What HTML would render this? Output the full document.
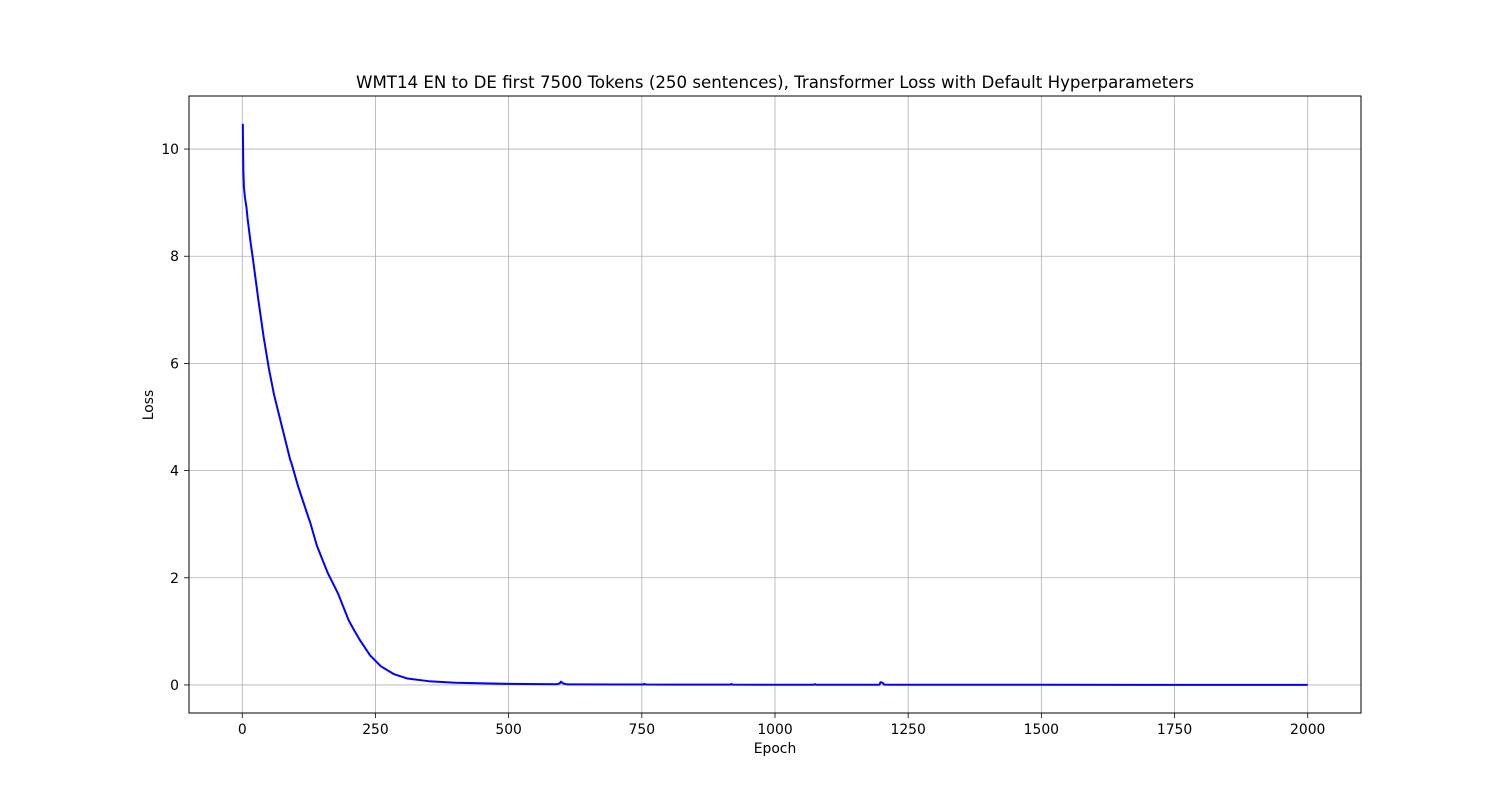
<!DOCTYPE html>
<html><head><meta charset="utf-8"><style>
body{margin:0;background:#fff;}
svg text{font-family:"DejaVu Sans","Liberation Sans",sans-serif;fill:#000;}
</style></head><body>
<svg id="chart" width="1512" height="801" viewBox="0 0 1512 801" xmlns="http://www.w3.org/2000/svg">
<rect width="1512" height="801" fill="#fff"/>
<g id="grid"></g>
<g id="ticks"></g>
<polyline id="line" fill="none" stroke="#0000ff" stroke-width="2" stroke-linejoin="round"/>
<rect x="189" y="96" width="1172" height="617" fill="none" stroke="#000" stroke-width="1"/>
<text x="775" y="88" font-size="16.7" text-anchor="middle" textLength="838" lengthAdjust="spacingAndGlyphs">WMT14 EN to DE first 7500 Tokens (250 sentences), Transformer Loss with Default Hyperparameters</text>
<text x="775" y="753" font-size="13.9" text-anchor="middle">Epoch</text>
<text x="153" y="405" font-size="13.9" text-anchor="middle" transform="rotate(-90 153 405)">Loss</text>
</svg>
<script>
const epochs=[1,2,3,5,8,10,15,20,30,40,50,60,65,75,90,92,105,125,127,140,160,180,190,200,210,220,240,260,285,310,350,400,500,590,596,598,602,610,700,753,755,757,800,916,918,920,1000,1073,1075,1077,1196,1198,1202,1205,1300,1500,1750,2000];
const losses=[10.47,9.6,9.3,9.1,8.9,8.7,8.3,7.95,7.2,6.5,5.9,5.4,5.2,4.8,4.2,4.15,3.7,3.1,3.05,2.6,2.1,1.7,1.45,1.2,1.02,0.85,0.55,0.35,0.2,0.12,0.07,0.04,0.02,0.012,0.03,0.06,0.03,0.01,0.008,0.008,0.02,0.008,0.006,0.005,0.02,0.005,0.004,0.004,0.015,0.004,0.004,0.05,0.04,0.005,0.003,0.003,0.002,0.002];
const xTicks=[0,250,500,750,1000,1250,1500,1750,2000];
const yTicks=[0,2,4,6,8,10];
const X=v=>189+(v+100)/2200*1172;
const Y=v=>713-(v+0.5235)/11.5135*617;
const NS='http://www.w3.org/2000/svg';
const grid=document.getElementById('grid'),ticks=document.getElementById('ticks');
function mk(tag,attrs,parent){const e=document.createElementNS(NS,tag);for(const k in attrs)e.setAttribute(k,attrs[k]);parent.appendChild(e);return e;}
xTicks.forEach(t=>{const x=X(t);
const g=mk('line',{x1:x,x2:x,y1:96,y2:713,stroke:'#b0b0b0','stroke-width':0.8},grid);


const tk=mk('line',{x1:x,x2:x,y1:713,y2:718,stroke:'#000','stroke-width':0.8},ticks);


const tx=mk('text',{x:x,y:734,'font-size':13.9,'text-anchor':'middle'},ticks);tx.textContent=t;

});
yTicks.forEach(t=>{const y=Y(t);
const g=mk('line',{x1:189,x2:1361,y1:y,y2:y,stroke:'#b0b0b0','stroke-width':0.8},grid);


const tk=mk('line',{x1:184,x2:189,y1:y,y2:y,stroke:'#000','stroke-width':0.8},ticks);


const tx=mk('text',{x:179,y:y+5,'font-size':13.9,'text-anchor':'end'},ticks);tx.textContent=t;

});
document.getElementById('line').setAttribute('points',epochs.map((e,i)=>X(e)+','+Y(losses[i])).join(' '));
</script>
</body></html>
